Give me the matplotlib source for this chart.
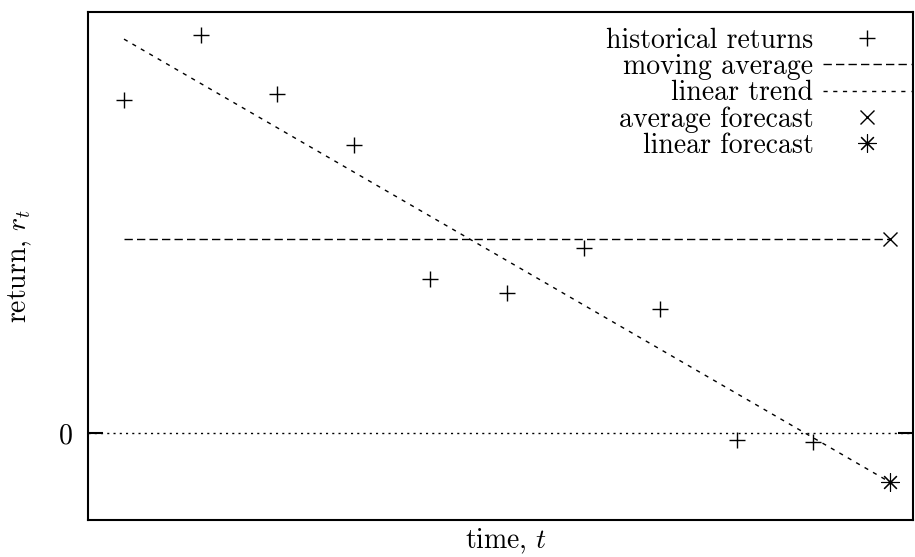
import numpy as np
import matplotlib
matplotlib.use("Agg")
import matplotlib.pyplot as plt

plt.rcParams['font.family'] = 'cmr10'
plt.rcParams['mathtext.fontset'] = 'cm'
plt.rcParams['axes.unicode_minus'] = False

# data
periods = [1, 2, 3, 4, 5, 6, 7, 8, 9, 10]
returns = [3.33, 3.98, 3.39, 2.88, 1.54, 1.40, 1.85, 1.24, -0.07, -0.09]
forecast_period = 11

t = np.array(periods, dtype=float)
r = np.array(returns)
avg = r.mean()
slope, intercept = np.polyfit(t, r, 1)
t_line = np.array([periods[0], forecast_period], dtype=float)

FS = 20

fig = plt.figure(figsize=(9.15, 5.57), dpi=100)
ax = fig.add_axes([88/915, 1-520/557, (913-88)/915, (520-12)/557])

ax.axhline(0, color='black', lw=1.0, linestyle=(0, (1.5, 3)))
ax.plot(t, r, linestyle='none', marker='+', ms=12, mew=1.0, color='black',
        label='historical returns')
ax.plot(t_line, [avg, avg], color='black', lw=1.0, linestyle=(0, (6, 3)),
        label='moving average')
ax.plot(t_line, intercept + slope*t_line, color='black', lw=1.0,
        linestyle=(0, (3, 4)), label='linear trend')
ax.plot([forecast_period], [avg], linestyle='none', marker='x', ms=10, mew=1.0,
        color='black', label='average forecast')
ax.plot([forecast_period], [intercept + slope*forecast_period], linestyle='none',
        marker=(8, 2, 0), ms=13, mew=0.8, color='black', label='linear forecast')

ax.set_xlim(0.53, 11.3)
ax.set_ylim(-0.87, 4.21)
ax.set_xticks([])
ax.set_yticks([0])
ax.set_yticklabels(['0'], fontsize=FS)
ax.tick_params(axis='y', direction='in', length=11, width=1.5, right=True, pad=11)
for s in ax.spines.values():
    s.set_linewidth(1.5)

ax.set_xlabel('time, $t$', fontsize=FS)
ax.xaxis.set_label_coords(0.507, -0.014)
ax.set_ylabel('return, $r_t$', fontsize=FS)
ax.yaxis.set_label_coords(-0.066, 0.5)

leg = ax.legend(loc='upper right', frameon=False, markerfirst=False, fontsize=FS,
                handlelength=3.15, handletextpad=0.35, labelspacing=0.0,
                borderaxespad=0.0, borderpad=0.3,
                bbox_to_anchor=(1.0 + 6/825, 1.0 - 7/508))
for txt in leg.get_texts():
    txt.set_ha('right')

fig.savefig('out.png', dpi=100)
